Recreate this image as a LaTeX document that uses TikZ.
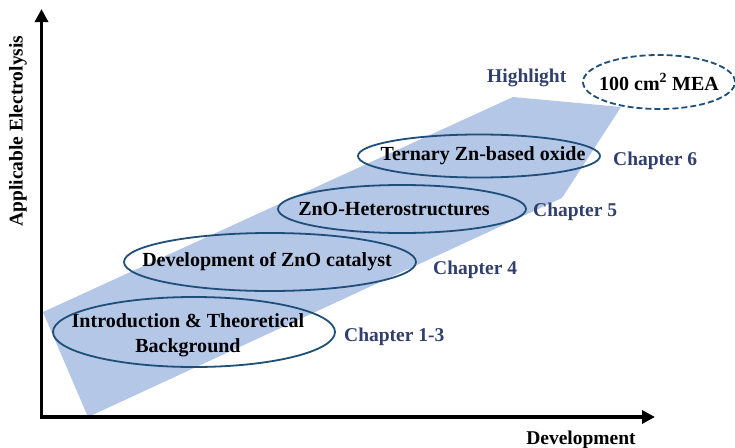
\documentclass[tikz,border=0pt]{standalone}
\usepackage{fontspec}
\setmainfont{Liberation Serif}
\usetikzlibrary{arrows.meta}
\definecolor{bandblue}{HTML}{B4C7E7}
\definecolor{rimblue}{HTML}{1F4E79}
\definecolor{chapblue}{HTML}{313F6E}
\tikzset{
  axisline/.style={line width=3.5pt,-{Triangle[length=13pt,width=13pt]}},
  rim/.style={draw=rimblue,line width=1.8pt},
  topic/.style={inner sep=0pt,font=\fontsize{20}{25}\selectfont\bfseries,align=center},
  chap/.style={font=\fontsize{19.5}{22}\selectfont\bfseries,text=chapblue,anchor=west,inner sep=0pt},
  axislabel/.style={font=\fontsize{19.5}{22}\selectfont\bfseries,inner sep=0pt}
}
\begin{document}
\begin{tikzpicture}[x=1pt,y=-1pt]
\useasboundingbox (0,0) rectangle (735,447);
% development band
\fill[bandblue] (43,312) -- (513,97) -- (621,107) -- (562,198) -- (88,417) -- cycle;
% axes
\coordinate (O) at (41.5,417);
\coordinate (ytip) at (41.5,9);
\coordinate (xtip) at (655,417);
\draw[axisline] (O) -- (ytip);
\draw[axisline] ([xshift=-1.75pt]O) -- (xtip);
\node[axislabel,rotate=90] (ylab) at (18,131) {Applicable Electrolysis};
\node[axislabel,anchor=base] (xlab) at (581,444) {Development};
% topics
\node[topic] (intro) at (188,335) {Introduction \& Theoretical\\Background};
\draw[rim] (194,332) ellipse [x radius=141pt, y radius=35pt];
\node[topic] (dev) at (267,262) {Development of ZnO catalyst};
\draw[rim] (270,262) ellipse [x radius=146pt, y radius=29pt];
\node[topic] (hetero) at (394,209) {ZnO-Heterostructures};
\draw[rim] (402,209) ellipse [x radius=124pt, y radius=24pt];
\node[topic] (tern) at (483,156) {Ternary Zn-based oxide};
\draw[rim] (479,156) ellipse [x radius=121pt, y radius=21.5pt];
\node[topic] (mea) at (659,82) {100 cm\textsuperscript{2} MEA};
\draw[rim,dash pattern=on 6pt off 3pt] (mea) ellipse [x radius=76pt, y radius=27pt];
% chapter labels
\node[chap] (c13) at (344,337) {Chapter 1-3};
\node[chap] (c4) at (433,270) {Chapter 4};
\node[chap] (c5) at (533,212) {Chapter 5};
\node[chap] (c6) at (613,161) {Chapter 6};
\node[chap] (hl) at (487,78) {Highlight};
\end{tikzpicture}
\end{document}
